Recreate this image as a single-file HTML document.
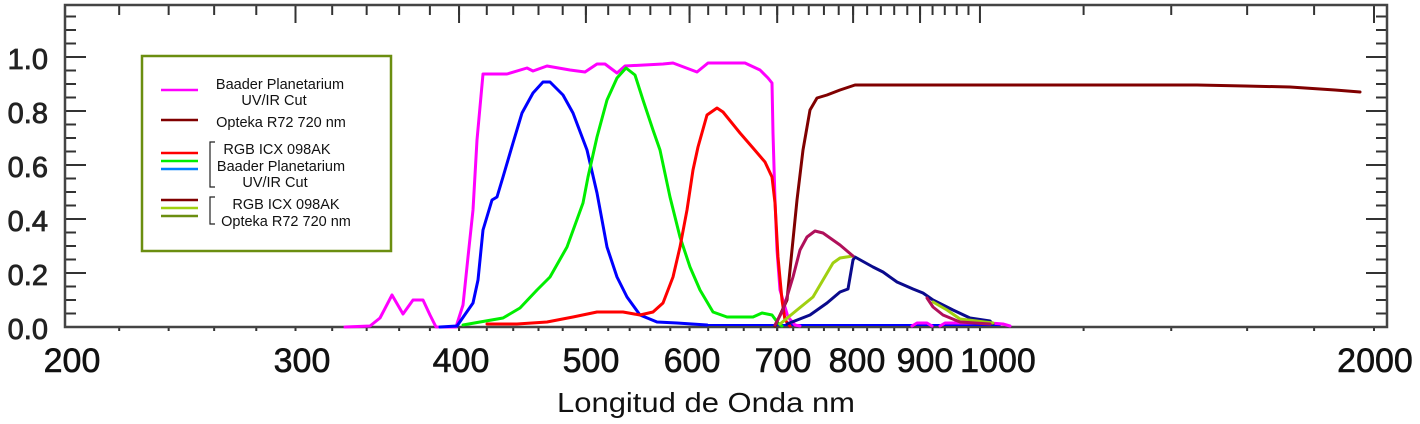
<!DOCTYPE html>
<html><head><meta charset="utf-8"><style>html,body{margin:0;padding:0;background:#fff;width:1420px;height:424px;overflow:hidden}</style></head>
<body>
<svg width="1420" height="424" viewBox="0 0 1420 424" xmlns="http://www.w3.org/2000/svg" font-family="Liberation Sans, sans-serif">
<rect width="1420" height="424" fill="#fff"/>
<g id="ticks" stroke="#333" stroke-width="2"></g>
<rect x="65" y="5" width="1322" height="322" fill="none" stroke="#444" stroke-width="2.5"/>
<g fill="none" stroke-width="3" stroke-linejoin="round" stroke-linecap="round">
<polyline stroke="#0000ff" stroke-width="2" points="700,325 1000,325"/>
<polyline stroke="#ff00ff" points="345,327 370,326 380,318 392,295 403,314 413,300 423,300 430,315 436,327 456,327 463,305 468,257 473,210 477,140 483,74 507,74 527,68 533,71 547,66 570,70 585,72 597,64 605,64 617,73 625,66 663,64 673,63 697,72 708,63 745,63 760,70 768,78 772,83 773,133 775,200 777,250 780,290 785,307 788,317 795,325 800,326"/>
<polyline stroke="#ff00ff" points="912,326 917,323 927,323 932,326"/>
<polyline stroke="#ff00ff" points="940,326 945,323 990,323 1003,324 1010,326"/>
<polyline stroke="#0000ff" points="440,327 457,326 473,303 478,280 483,230 492,200 497,197 503,177 513,143 522,113 533,93 543,82 550,82 563,95 573,113 587,150 597,193 607,247 617,277 627,297 640,315 657,322 677,323 707,325"/>
<polyline stroke="#00ee00" points="463,325 480,322 503,318 520,308 537,290 550,277 567,247 583,203 588,177 597,137 607,100 617,78 626,68 635,75 643,100 653,130 660,150 670,197 680,237 690,267 700,290 713,312 727,317 753,317 762,313 772,315 778,323 782,326"/>
<polyline stroke="#ff0000" points="487,324 517,324 547,322 573,317 597,312 623,312 640,315 653,312 663,303 673,277 680,247 687,210 693,170 698,147 707,115 717,108 723,112 740,133 753,148 765,162 772,177 775,203 778,257 782,300 785,320 790,326"/>
<polyline stroke="#800000" points="775,326 787,300 797,200 803,150 810,110 817,98 827,95 840,90 855,85 1197,85 1245,86 1290,87 1320,89 1335,90 1360,92"/>
<polyline stroke="#0a0a8c" points="787,324 810,315 827,303 840,292 848,289 853,260 855,257 873,267 883,272 897,282 913,289 923,293 933,300 953,310 970,318 990,321 993,324"/>
<polyline stroke="#a0d010" points="780,324 797,310 813,297 823,280 833,263 840,258 853,256"/>
<polyline stroke="#a0d010" points="933,302 947,310 960,319 993,323"/>
<polyline stroke="#b0105a" points="775,325 783,310 793,277 800,250 807,237 815,231 823,233 840,245 853,256"/>
<polyline stroke="#b0105a" points="927,298 933,307 943,315 960,322 990,324"/>
</g>
<g font-size="29" fill="#222" stroke="#222" stroke-width="0.8" text-anchor="end">
<text x="48" y="69">1.0</text><text x="48" y="123">0.8</text><text x="48" y="177">0.6</text><text x="48" y="231">0.4</text><text x="48" y="285">0.2</text><text x="48" y="339">0.0</text>
</g>
<g font-size="34" fill="#111" stroke="#111" stroke-width="0.6" text-anchor="middle">
<text x="72" y="372">200</text><text x="302" y="372">300</text><text x="461" y="372">400</text><text x="591" y="372">500</text><text x="692" y="372">600</text><text x="783" y="372">700</text><text x="857" y="372">800</text><text x="925" y="372">900</text><text x="998" y="372">1000</text><text x="1375" y="372">2000</text>
</g>
<text x="557" y="412" font-size="28" fill="#111" textLength="298" lengthAdjust="spacingAndGlyphs">Longitud de Onda nm</text>
<rect x="142" y="56" width="249" height="195" fill="#fff" stroke="#6b8e10" stroke-width="2.5"/>
<g stroke-width="2.5">
<line x1="161" y1="90" x2="198" y2="90" stroke="#ff00ff"/>
<line x1="161" y1="120" x2="198" y2="120" stroke="#800000"/>
<line x1="161" y1="153" x2="198" y2="153" stroke="#ff0000"/>
<line x1="161" y1="161" x2="198" y2="161" stroke="#00ee00"/>
<line x1="161" y1="169" x2="198" y2="169" stroke="#0080ff"/>
<line x1="161" y1="200" x2="198" y2="200" stroke="#800000"/>
<line x1="161" y1="208" x2="198" y2="208" stroke="#a0d010"/>
<line x1="161" y1="216" x2="198" y2="216" stroke="#6b8e10"/>
</g>
<g fill="none" stroke="#222" stroke-width="1.2">
<polyline points="215,142 210,142 210,187 215,187"/>
<polyline points="215,197 210,197 210,224 215,224"/>
</g>
<g font-size="14.5" fill="#111" text-anchor="middle">
<text x="280" y="89">Baader Planetarium</text>
<text x="274" y="105">UV/IR Cut</text>
<text x="281" y="127">Opteka R72 720 nm</text>
<text x="277" y="154">RGB ICX 098AK</text>
<text x="281" y="171">Baader Planetarium</text>
<text x="275" y="187">UV/IR Cut</text>
<text x="286" y="209">RGB ICX 098AK</text>
<text x="286" y="226">Opteka R72 720 nm</text>
</g>
<script>
(function(){
var g=document.getElementById('ticks'),ns='http://www.w3.org/2000/svg';
function L(x1,y1,x2,y2){var l=document.createElementNS(ns,'line');l.setAttribute('x1',x1);l.setAttribute('y1',y1);l.setAttribute('x2',x2);l.setAttribute('y2',y2);g.appendChild(l);}
function X(w){return 65+1309*Math.log10(w/200);}
var ws=[],w;
for(w=220;w<1000;w+=20)ws.push(w);
for(w=1200;w<2000;w+=200)ws.push(w);
var maj=[300,400,500,600,700,800,900,1000,2000];
ws.forEach(function(v){var x=X(v);L(x,5,x,15);L(x,327,x,331);});
maj.forEach(function(v){var x=X(v);L(x,5,x,23);L(x,327,x,331);});
for(var i=0;i<=23;i++){var v=i*0.05,y=327-270*v;var m=(i%4==0);var len=m?21:11;if(y<6)continue;L(65,y,65+len,y);L(1387,y,1387-len,y);}
})();
</script>
</svg>
</body></html>
